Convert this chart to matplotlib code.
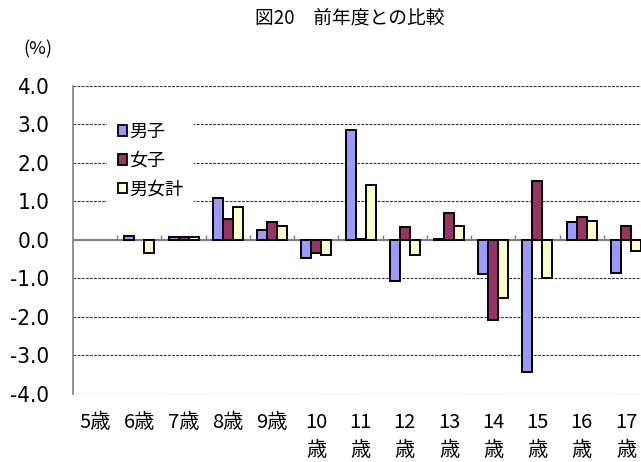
import numpy as np
import matplotlib
matplotlib.use("Agg")
from matplotlib import pyplot as plt
from matplotlib.patches import Patch

plt.rcParams['font.family'] = ['Noto Sans CJK JP', 'DejaVu Sans']

# data (percentage points vs previous year)
categories = ['5歳', '6歳', '7歳', '8歳', '9歳', '10\n歳', '11\n歳', '12\n歳',
              '13\n歳', '14\n歳', '15\n歳', '16\n歳', '17\n歳']
series_names = ['男子', '女子', '男女計']
boys = [0.0, 0.1, 0.07, 1.1, 0.25, -0.46, 2.86, -1.07, 0.03, -0.89, -3.44, 0.47, -0.85]
girls = [0.0, 0.0, 0.07, 0.55, 0.48, -0.35, 0.02, 0.33, 0.7, -2.09, 1.54, 0.59, 0.36]
total = [0.0, -0.33, 0.07, 0.85, 0.36, -0.4, 1.44, -0.38, 0.36, -1.5, -1.0, 0.5, -0.29]
colors = ['#9999FF', '#993366', '#FFFFCC']
yticks = [4.0, 3.0, 2.0, 1.0, 0.0, -1.0, -2.0, -3.0, -4.0]

fig = plt.figure(figsize=(6.41, 4.62), dpi=100)
ax = fig.add_axes([0.1139, 0.1472, 0.8861, 0.6667])

x = np.arange(len(categories))
w = 0.226
for k, vals in enumerate([boys, girls, total]):
    bars = ax.bar(x + (k - 1) * w, vals, width=w, color=colors[k],
                  edgecolor='black', linewidth=1.4, zorder=3)
    for b, v in zip(bars, vals):
        if v == 0:
            b.set_visible(False)

ax.set_xlim(-0.5, 12.34)
ax.set_ylim(-4.0, 4.0)

# grid
ax.set_yticks(yticks)
ax.set_yticklabels(['%.1f' % t for t in yticks],
                   family='DejaVu Sans', fontstretch='condensed', fontsize=16)
ax.yaxis.grid(True, linestyle=(0, (2.5, 1.2)), color='#333333', linewidth=0.8, zorder=0)
ax.tick_params(axis='y', length=0, pad=17)

# zero line with category tick marks
ax.axhline(0, color='#808080', linewidth=1.5, zorder=2)
ax.vlines(x[:-1] + 0.5, 0, 0.13, color='#808080', linewidth=1.0, zorder=2)

ax.set_xticks(x)
ax.set_xticklabels(categories, fontsize=14.5, linespacing=1.45, va='top')
ax.tick_params(axis='x', length=0, pad=13)

for s in ['top', 'right', 'bottom']:
    ax.spines[s].set_visible(False)
ax.spines['left'].set_color('#808080')
ax.spines['left'].set_linewidth(1.2)

handles = [Patch(facecolor=c, edgecolor='black', linewidth=1.3) for c in colors]
leg = ax.legend(handles, series_names, loc='upper left', bbox_to_anchor=(0.06, 0.915),
                fontsize=13, frameon=True, fancybox=False, handlelength=0.5,
                handleheight=0.5, handletextpad=0.1, labelspacing=0.6,
                borderpad=0.6, borderaxespad=0)
leg.get_frame().set_facecolor('white')
leg.get_frame().set_edgecolor('none')
leg.get_frame().set_alpha(1.0)

fig.text(0.545, 0.962, '図20\u3000前年度との比較', ha='center', va='center', fontsize=13.5)
fig.text(0.059, 0.894, '(%)', ha='center', va='center', fontsize=13)

fig.savefig('out.png', dpi=100)
